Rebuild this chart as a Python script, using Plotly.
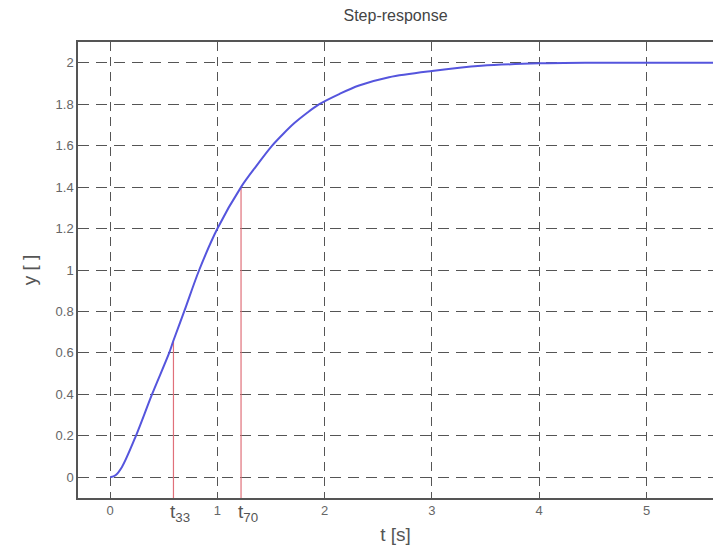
import plotly.graph_objects as go

# Step response samples
t_vals = [0.0, 0.05, 0.11, 0.24, 0.39, 0.55, 0.59, 0.69, 0.83, 1.0, 1.22, 1.36, 1.51, 1.61, 1.72, 1.84, 1.95, 2.14, 2.32, 2.6, 3.0, 3.46, 4.0, 4.43, 5.0, 5.62]
y_vals = [0.0, 0.01, 0.05, 0.2, 0.4, 0.6, 0.66, 0.8, 1.0, 1.2, 1.4, 1.5, 1.6, 1.655, 1.71, 1.76, 1.8, 1.85, 1.89, 1.93, 1.96, 1.985, 1.997, 2.0, 2.0, 2.0]

# marker times and levels
mark_t = [0.59, 1.22]
mark_y = [0.66, 1.4]
mark_labels = ["t<sub>33</sub>", "t<sub>70</sub>"]

x_ticks = [0, 1, 2, 3, 4, 5]
y_ticks = [0, 0.2, 0.4, 0.6, 0.8, 1, 1.2, 1.4, 1.6, 1.8, 2]
y_tick_text = ["0", "0.2", "0.4", "0.6", "0.8", "1", "1.2", "1.4", "1.6", "1.8", "2"]

x_range = [-0.3, 5.62]
y_range = [-0.1, 2.1]

fig = go.Figure()

for tm, ym in zip(mark_t, mark_y):
    fig.add_trace(go.Scatter(x=[tm, tm], y=[y_range[0], ym], mode="lines",
                             line=dict(color="#e0707a", width=1.2), showlegend=False,
                             hoverinfo="skip"))

fig.add_trace(go.Scatter(x=t_vals, y=y_vals, mode="lines",
                         line=dict(color="#5555dd", width=2, shape="spline", smoothing=0.9),
                         showlegend=False))

for tm, lab in zip(mark_t, mark_labels):
    fig.add_annotation(x=tm, y=0, xref="x", yref="paper", yshift=-1,
                       text=lab, showarrow=False, xanchor="left", yanchor="top",
                       xshift=-5,
                       font=dict(family="Liberation Sans, Arial, sans-serif", size=19, color="#555"))

fig.update_layout(
    width=713, height=554,
    margin=dict(l=78, r=0, t=42, b=56, autoexpand=False),
    paper_bgcolor="white", plot_bgcolor="white",
    title=dict(text="Step-response", x=0.5, xref="paper", xanchor="center",
               y=1 - 15/554, yanchor="middle",
               font=dict(family="Liberation Sans, Arial, sans-serif", size=16, color="#444")),
    font=dict(family="Liberation Sans, Arial, sans-serif", color="#555"),
)

fig.update_xaxes(range=x_range, tickvals=x_ticks, ticktext=[str(v) for v in x_ticks],
                 automargin=False,
                 showgrid=True, gridcolor="#555", gridwidth=1, griddash="9px,6px",
                 zeroline=False, showline=True, linecolor="#555", linewidth=1.5,
                 mirror="ticks", ticks="inside", ticklen=6, tickcolor="#555",
                 tickfont=dict(size=13, color="#666"),
                 title=dict(text="t [s]", font=dict(size=19, color="#555"), standoff=10))

fig.update_yaxes(range=y_range, tickvals=y_ticks, ticktext=y_tick_text,
                 automargin=False,
                 showgrid=True, gridcolor="#555", gridwidth=1, griddash="11px,7px",
                 zeroline=False, showline=True, linecolor="#555", linewidth=1.5,
                 mirror=False, ticks="inside", ticklen=6, tickcolor="#555",
                 tickfont=dict(size=13, color="#666"),
                 title=dict(text="y [ ]", font=dict(size=19, color="#555"), standoff=14))

fig.write_html("out.html", config={"displayModeBar": False},
               post_script="document.body.style.margin='0px';document.body.style.overflow='hidden';")
